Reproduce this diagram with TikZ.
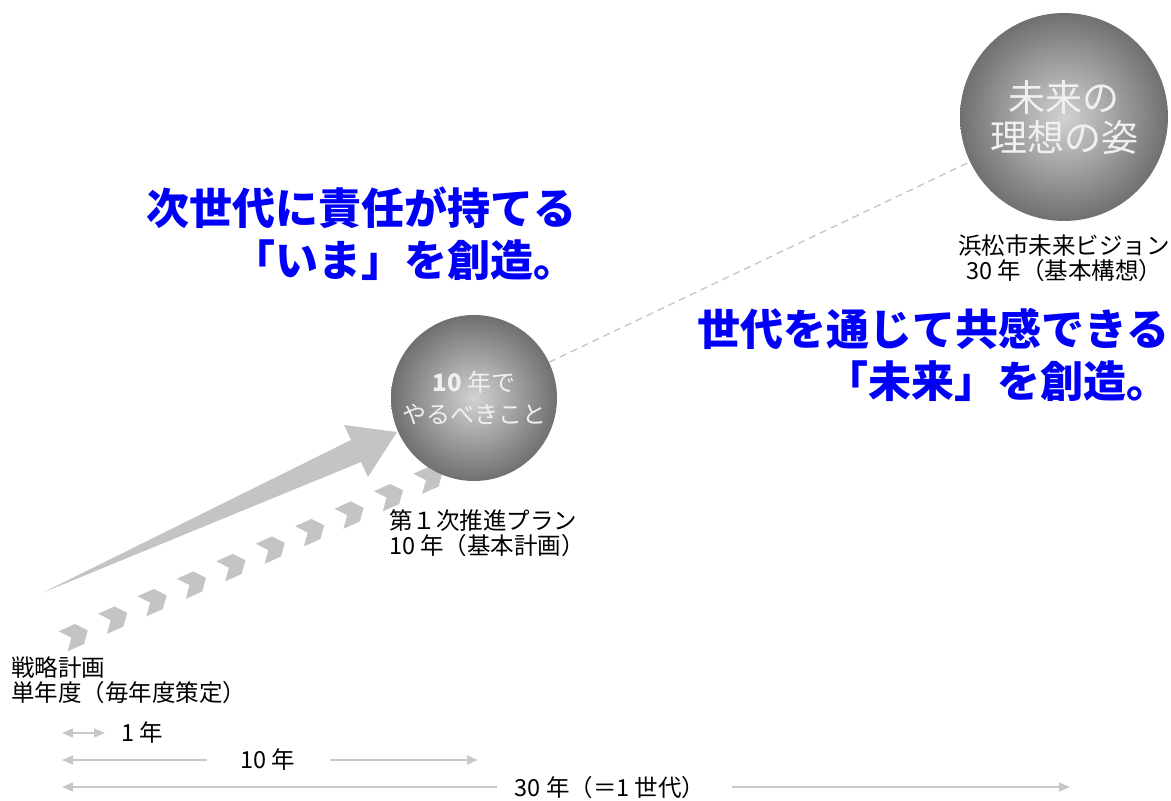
\documentclass[tikz,border=0pt]{standalone}
\usepackage{fontspec}
\newfontfamily\jpfont{Noto Sans CJK JP}
\usepackage{tikz}
\usetikzlibrary{arrows.meta, positioning}
\usepackage{xcolor}
\definecolor{VisionBlue}{RGB}{0, 0, 250}
\definecolor{LiteGray}{RGB}{200, 200, 200}
\definecolor{ArrowGray}{RGB}{196, 196, 196}
\definecolor{BallLite}{RGB}{210, 210, 210}
\definecolor{BallDark}{RGB}{112, 112, 112}
\tikzset{%
  ball/.style={%
    circle,%
    inner sep=0pt,%
    inner color=BallLite,%
    outer color=BallDark,%
    text=white!94!black,%
    align=center%
  },
  slogan/.style={%
    text=VisionBlue,%
    inner sep=0pt,%
    font={\jpfont\bfseries\fontsize{43}{52}\selectfont},%
    align=right%
  },
  caption/.style={%
    inner sep=0pt,%
    font={\jpfont\fontsize{23.5}{25}\selectfont},%
    align=left%
  },
  link/.style={%
    draw=LiteGray,%
    line width=1.4pt,%
    dash pattern=on 7pt off 5pt%
  },
  span/.style={%
    draw=LiteGray,%
    line width=1.6pt,%
    -{Triangle[length=11pt, width=9pt]}%
  },
}

\begin{document}
\begin{tikzpicture}[x=1pt, y=1pt]
    \useasboundingbox (0, 0) rectangle (1171, -801);

    % steps of the yearly plans
    \foreach \i in {0,...,10}
      \fill [ArrowGray, shift={(75+39.4*\i, -636+17.5*\i)}, rotate=24]
        (-13, 11) -- (5, 11) -- (14, 0) -- (5, -11) -- (-13, -11) -- (-4, 0) -- cycle;

    % ten year arrow
    \fill [ArrowGray]
      (42, -593) -- (351, -440) -- (344, -425) -- (397, -432)
      -- (368, -477) -- (361, -462) -- cycle;

    \node [ball, minimum size=166pt,
      font={\jpfont\fontsize{24}{32}\selectfont}] (Plan) at (474, -398)
      {{\bfseries 10} 年で\\やるべきこと};
    \node [ball, minimum size=208pt,
      font={\jpfont\fontsize{37}{40}\selectfont}] (Vision) at (1064, -117)
      {未来の\\理想の姿};

    \draw [link] (Plan) -- (Vision);

    \node [caption, below = 28pt of Plan, xshift=13pt] (PlanNote)
      {第１次推進プラン\\10 年（基本計画）};
    \node [caption, below = 13pt of Vision] (VisionNote)
      {浜松市未来ビジョン\\\hspace{8pt}30 年（基本構想）};
    \node [caption, anchor=west] (YearNote) at (11, -680)
      {戦略計画\\単年度（毎年度策定）};

    \node [slogan, anchor=east] (NowText) at (577, -234)
      {次世代に責任が持てる\\「いま」を創造。};
    \node [slogan, anchor=east] (FutureText) at (1170, -355)
      {世代を通じて共感できる\\「未来」を創造。};

    % time spans
    \coordinate (OneL) at (62, -733);
    \coordinate (OneR) at (105, -733);
    \node [caption, anchor=west] (OneYear) at (121, -733) {1 年};
    \draw [span, {Triangle[length=11pt, width=9pt]}-{Triangle[length=11pt, width=9pt]}]
      (OneL) -- (OneR);

    \node [caption] (TenYears) at (268, -760) {10 年};
    \coordinate (TenL) at (62, -760);
    \coordinate (TenA) at (207, -760);
    \coordinate (TenB) at (330, -760);
    \coordinate (TenR) at (478, -760);
    \draw [span] (TenA) -- (TenL);
    \draw [span] (TenB) -- (TenR);

    \node [caption] (Generation) at (610, -788) {30 年（＝1 世代）};
    \coordinate (GenL) at (62, -787);
    \coordinate (GenA) at (497, -787);
    \coordinate (GenB) at (732, -787);
    \coordinate (GenR) at (1070, -787);
    \draw [span] (GenA) -- (GenL);
    \draw [span] (GenB) -- (GenR);
  \end{tikzpicture}
\end{document}
